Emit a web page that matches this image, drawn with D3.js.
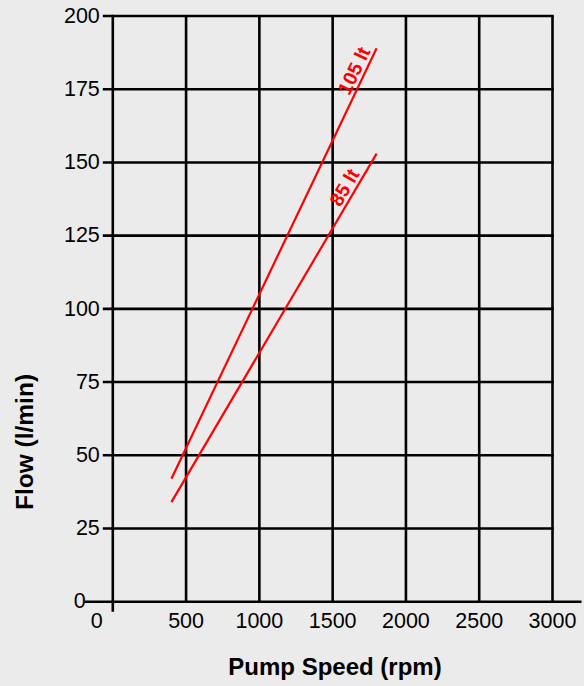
<!DOCTYPE html>
<html>
<head>
<meta charset="utf-8">
<script src="https://cdn.jsdelivr.net/npm/d3@7"></script>
<style>
  html, body { margin: 0; padding: 0; background: #ebebeb; }
  svg { display: block; font-family: "Liberation Sans", Arial, sans-serif; }
</style>
</head>
<body>
<div id="viz"></div>
<script>
// chart data
const xTicks = [0, 500, 1000, 1500, 2000, 2500, 3000];
const yTicks = [0, 25, 50, 75, 100, 125, 150, 175, 200];
const speeds = [400, 1800];
const flow105 = [42, 189];
const flow85 = [34, 153];
const seriesNames = ['105 lt', '85 lt'];
const labelAt = [1785, 1710]; // rpm where each label ends

const width = 584, height = 686;

const svg = d3.select('#viz').append('svg')
  .attr('width', width)
  .attr('height', height);

svg.append('rect')
  .attr('width', width)
  .attr('height', height)
  .attr('fill', '#ebebeb');

const x = d3.scaleLinear().domain([0, 3000]).range([112.8, 552.5]);
const y = d3.scaleLinear().domain([0, 200]).range([601.7, 16]);

const g = svg.append('g');

// vertical grid
g.append('g')
  .selectAll('line')
  .data(xTicks.filter(d => d > 0))
  .join('line')
  .attr('x1', d => x(d)).attr('x2', d => x(d))
  .attr('y1', y(0)).attr('y2', y(200))
  .attr('stroke', '#000')
  .attr('stroke-width', 2.6);

// horizontal grid + left ticks
g.append('g')
  .selectAll('line')
  .data(yTicks.filter(d => d > 0))
  .join('line')
  .attr('x1', x(0) - 10).attr('x2', x(3000) + 1.3)
  .attr('y1', d => y(d)).attr('y2', d => y(d))
  .attr('stroke', '#000')
  .attr('stroke-width', 2.6);

// y axis line (runs past the x axis as a tick)
g.append('line')
  .attr('x1', x(0)).attr('x2', x(0))
  .attr('y1', y(200) - 1.3).attr('y2', y(0) + 10)
  .attr('stroke', '#000')
  .attr('stroke-width', 2.6);

// x axis line
g.append('line')
  .attr('x1', x(0) - 28).attr('x2', x(3000) + 29)
  .attr('y1', y(0)).attr('y2', y(0))
  .attr('stroke', '#000')
  .attr('stroke-width', 2.6);

// y tick labels
g.append('g')
  .selectAll('text')
  .data(yTicks)
  .join('text')
  .attr('x', d => d === 0 ? x(0) - 27 : x(0) - 13)
  .attr('y', d => y(d) + 1)
  .attr('text-anchor', 'end')
  .attr('dominant-baseline', 'middle')
  .attr('font-size', 21.5)
  .attr('fill', '#000')
  .text(d => d);

// x tick labels
g.append('g')
  .selectAll('text')
  .data(xTicks)
  .join('text')
  .attr('x', d => d === 0 ? x(0) - 16 : x(d))
  .attr('y', y(0) + 26)
  .attr('text-anchor', 'middle')
  .attr('font-size', 21.5)
  .attr('fill', '#000')
  .text(d => d);

// flow lines
const series = [flow105, flow85];
const line = d3.line().x((d, i) => x(speeds[i])).y(d => y(d));

g.append('g')
  .selectAll('path')
  .data(series)
  .join('path')
  .attr('fill', 'none')
  .attr('stroke', '#ff0000')
  .attr('stroke-width', 2.2)
  .attr('d', d => line(d));

// line labels, rotated along each line
series.forEach((s, i) => {
  const slope = (s[1] - s[0]) / (speeds[1] - speeds[0]);
  const fx = labelAt[i];
  const fy = s[0] + slope * (fx - speeds[0]);
  const ang = Math.atan2(y(s[1]) - y(s[0]), x(speeds[1]) - x(speeds[0])) * 180 / Math.PI;
  g.append('text')
    .attr('transform', `translate(${x(fx)},${y(fy)}) rotate(${ang})`)
    .attr('dy', -4)
    .attr('text-anchor', 'end')
    .attr('font-size', 19.5)
    .attr('font-weight', 'bold')
    .attr('fill', '#ff0000')
    .text(seriesNames[i]);
});

// axis titles
svg.append('text')
  .attr('x', 335)
  .attr('y', 675)
  .attr('text-anchor', 'middle')
  .attr('font-size', 24)
  .attr('font-weight', 'bold')
  .text('Pump Speed (rpm)');

svg.append('text')
  .attr('transform', 'translate(33,442) rotate(-90)')
  .attr('text-anchor', 'middle')
  .attr('font-size', 24.5)
  .attr('font-weight', 'bold')
  .text('Flow (l/min)');
</script>
</body>
</html>
